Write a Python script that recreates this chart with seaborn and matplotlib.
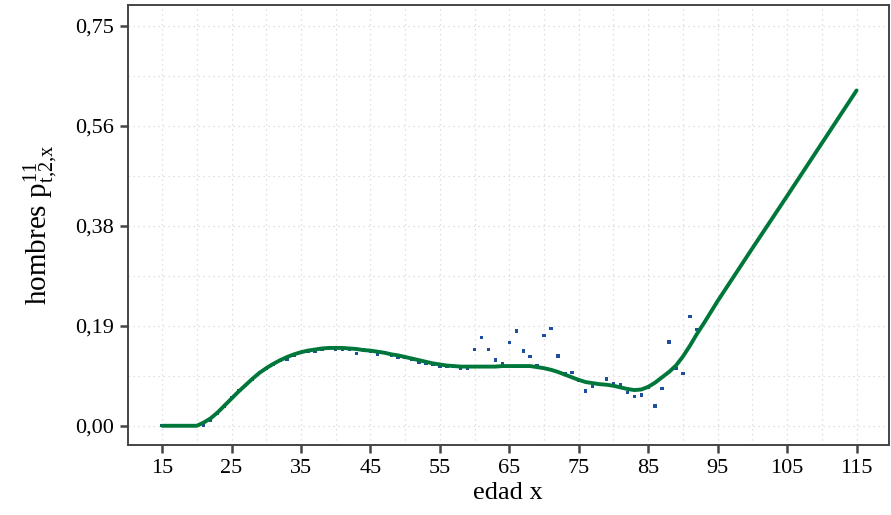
import numpy as np
import pandas as pd
import matplotlib
matplotlib.use("Agg")
import matplotlib.pyplot as plt
from matplotlib.ticker import FixedLocator, MultipleLocator
import seaborn as sns

# Smoothed transition probability by age (men)
fit_age = list(range(15, 96)) + [100, 105, 110, 115]
fit_prob = [
    0.000, 0.000, 0.000, 0.000, 0.000, 0.000,            # 15-20
    0.006, 0.014, 0.025, 0.038, 0.051,                   # 21-25
    0.064, 0.076, 0.088, 0.099, 0.108,                   # 26-30
    0.116, 0.123, 0.129, 0.134, 0.138,                   # 31-35
    0.141, 0.143, 0.145, 0.146, 0.146,                   # 36-40
    0.146, 0.145, 0.144, 0.142, 0.141,                   # 41-45
    0.139, 0.137, 0.134, 0.132, 0.129,                   # 46-50
    0.126, 0.123, 0.120, 0.117, 0.115,                   # 51-55
    0.113, 0.112, 0.111, 0.111, 0.111,                   # 56-60
    0.111, 0.111, 0.111, 0.112, 0.112,                   # 61-65
    0.112, 0.112, 0.112, 0.110, 0.108,                   # 66-70
    0.105, 0.101, 0.096, 0.091, 0.086,                   # 71-75
    0.082, 0.080, 0.078, 0.077, 0.075,                   # 76-80
    0.072, 0.069, 0.067, 0.068, 0.073,                   # 81-85
    0.081, 0.091, 0.101, 0.113, 0.130,                   # 86-90
    0.150, 0.172, 0.192, 0.213, 0.234,                   # 91-95
    0.333, 0.431, 0.530, 0.629,                          # 100-115
]

# Crude (observed) rates by age
obs_age = list(range(15, 93))
obs_prob = [
    0.000, 0.000, 0.000, 0.000, 0.000, 0.000,            # 15-20
    0.001, 0.011, 0.024, 0.037, 0.052,                   # 21-25
    0.065, 0.075, 0.088, 0.100, 0.107,                   # 26-30
    0.115, 0.122, 0.124, 0.133, 0.137,                   # 31-35
    0.140, 0.139, 0.143, 0.145, 0.143,                   # 36-40
    0.143, 0.143, 0.136, 0.142, 0.140,                   # 41-45
    0.134, 0.137, 0.133, 0.129, 0.128,                   # 46-50
    0.125, 0.120, 0.118, 0.116, 0.112,                   # 51-55
    0.112, 0.111, 0.107, 0.108, 0.143,                   # 56-60
    0.166, 0.143, 0.123, 0.117, 0.156,                   # 61-65
    0.178, 0.140, 0.130, 0.113, 0.169,                   # 66-70
    0.182, 0.131, 0.097, 0.100, 0.086,                   # 71-75
    0.065, 0.074, 0.077, 0.088, 0.079,                   # 76-80
    0.077, 0.062, 0.055, 0.058, 0.073,                   # 81-85
    0.037, 0.070, 0.157, 0.107, 0.098,                   # 86-90
    0.205, 0.181,                                        # 91-92
]

x_ticks = [15, 25, 35, 45, 55, 65, 75, 85, 95, 105, 115]
y_ticks = [0.0, 0.1875, 0.375, 0.5625, 0.75]
y_tick_labels = ["0,00", "0,19", "0,38", "0,56", "0,75"]

fit_df = pd.DataFrame({"edad": fit_age, "p": fit_prob})
obs_df = pd.DataFrame({"edad": obs_age, "p": obs_prob})

sns.set_theme(style="white")
plt.rcParams["font.family"] = ["Liberation Serif", "DejaVu Serif"]
plt.rcParams["mathtext.fontset"] = "custom"
plt.rcParams["mathtext.rm"] = "Liberation Serif"
plt.rcParams["mathtext.it"] = "Liberation Serif:italic"
plt.rcParams["mathtext.default"] = "regular"

fig = plt.figure(figsize=(8.91, 5.15), dpi=100)
ax = fig.add_axes([0.1437, 0.136, 0.8535, 0.855])

sns.scatterplot(data=obs_df, x="edad", y="p", ax=ax, marker="s", s=6,
                color="#1d4f9c", edgecolor="none", zorder=2)
sns.lineplot(data=fit_df, x="edad", y="p", ax=ax, color="#00773a",
             linewidth=2.8, zorder=3)

ax.set_xlim(10.1, 119.6)
ax.set_ylim(-0.036, 0.79)
ax.xaxis.set_major_locator(FixedLocator(x_ticks))
ax.xaxis.set_minor_locator(MultipleLocator(5))
ax.yaxis.set_major_locator(FixedLocator(y_ticks))
ax.yaxis.set_minor_locator(MultipleLocator(0.09375))
ax.set_yticklabels(y_tick_labels)

ax.grid(which="both", color="#d6d6d6", linestyle=(0, (1, 3)), linewidth=0.9)
ax.set_axisbelow(True)

for sp in ax.spines.values():
    sp.set_visible(True)
    sp.set_color("#444444")
    sp.set_linewidth(1.4)

ax.tick_params(axis="both", which="major", direction="out", length=6,
               width=1.8, color="#444444", labelsize=16, labelcolor="black",
               pad=4, bottom=True, left=True)
ax.tick_params(axis="both", which="minor", length=0)

ax.set_xlabel("edad x", fontsize=19, labelpad=3, color="black")
ax.set_ylabel(r"hombres p$^{11}_{t{,}2{,}x}$", fontsize=21, labelpad=10,
              color="black")

fig.savefig("out.png", dpi=100)
